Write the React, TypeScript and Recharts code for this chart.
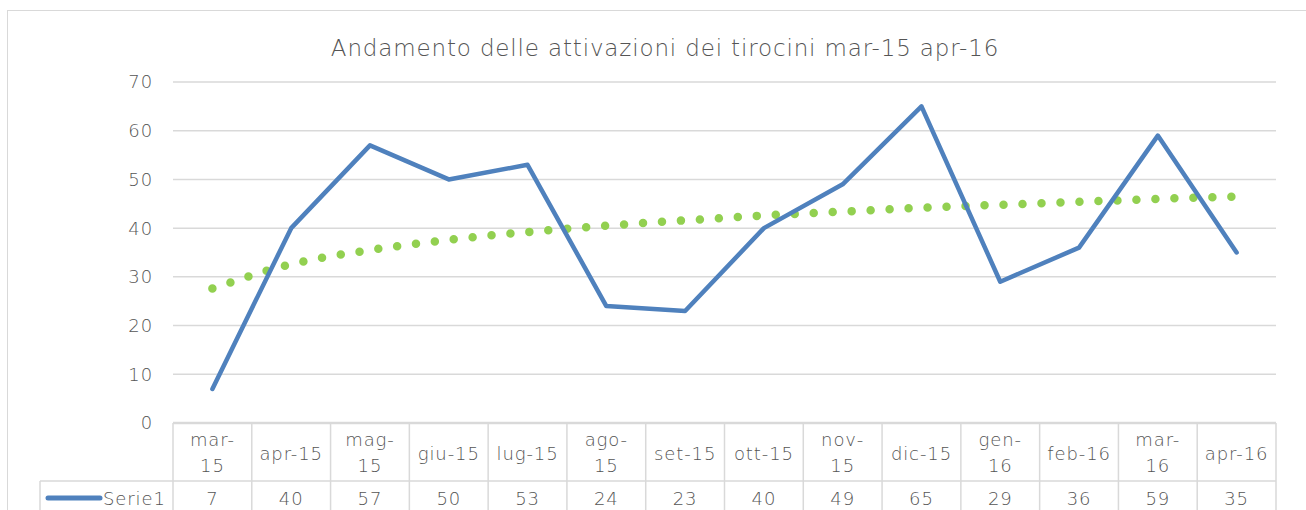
import { LineChart, Line, XAxis, YAxis, CartesianGrid } from "recharts";

const categories = [
  "mar-15", "apr-15", "mag-15", "giu-15", "lug-15", "ago-15", "set-15",
  "ott-15", "nov-15", "dic-15", "gen-16", "feb-16", "mar-16", "apr-16",
];
const serie1 = [7, 40, 57, 50, 53, 24, 23, 40, 49, 65, 29, 36, 59, 35];
// logarithmic trendline
const trend = [27.6, 32.6, 35.5, 37.6, 39.2, 40.5, 41.6, 42.6, 43.4, 44.2, 44.8, 45.4, 46.0, 46.5];
const yTicks = [0, 10, 20, 30, 40, 50, 60, 70];
// labels that Excel wrapped onto two lines
const wrapped = ["mar-15", "mag-15", "ago-15", "nov-15", "gen-16", "mar-16"];

const data = categories.map((name, i) => ({ name, serie1: serie1[i], trend: trend[i] }));

const W = 1306;
const H = 510;
const PLOT_LEFT = 173;
const PLOT_RIGHT = 1276;
const Y_AXIS_W = 60;
const BAND = (PLOT_RIGHT - PLOT_LEFT) / categories.length;
const GRID = "#d9d9d9";
const TEXT = "#555555";
const FONT = "'DejaVu Sans', sans-serif";
const WEIGHT = 200;
const SPACING = 0.9;
const BLUE = "#4f81bd";
const GREEN = "#92d050";

function TableTick(props: any) {
  const { x, y, payload, index } = props;
  const left = x - BAND / 2;
  const right = x + BAND / 2;
  const label: string = payload.value;
  const rowY = y + 58;
  const bottom = y + 100;
  const txt = {
    fill: TEXT,
    fontSize: 18,
    fontFamily: FONT,
    fontWeight: WEIGHT,
    letterSpacing: SPACING,
    textAnchor: "middle" as const,
  };
  let labelEl;
  if (wrapped.includes(label)) {
    const cut = label.indexOf("-") + 1;
    labelEl = (
      <>
        <text x={x} y={y + 16} dominantBaseline="central" {...txt}>{label.slice(0, cut)}</text>
        <text x={x} y={y + 42} dominantBaseline="central" {...txt}>{label.slice(cut)}</text>
      </>
    );
  } else {
    labelEl = <text x={x} y={y + 30} dominantBaseline="central" {...txt}>{label}</text>;
  }
  return (
    <g>
      <line x1={left} y1={y} x2={left} y2={bottom} stroke={GRID} strokeWidth={1.5} />
      {index === categories.length - 1 && (
        <line x1={right} y1={y} x2={right} y2={bottom} stroke={GRID} strokeWidth={1.5} />
      )}
      <line x1={left} y1={rowY} x2={right} y2={rowY} stroke={GRID} strokeWidth={1.5} />
      {labelEl}
      <text x={x} y={rowY + 17} dominantBaseline="central" {...txt}>{serie1[index]}</text>
      {index === 0 && (
        <g>
          <line x1={40} y1={rowY} x2={left} y2={rowY} stroke={GRID} strokeWidth={1.5} />
          <line x1={40} y1={rowY} x2={40} y2={bottom} stroke={GRID} strokeWidth={1.5} />
          <line x1={48} y1={rowY + 17} x2={100} y2={rowY + 17} stroke={BLUE} strokeWidth={5} strokeLinecap="round" />
          <text
            x={103}
            y={rowY + 17}
            dominantBaseline="central"
            fill={TEXT}
            fontSize={18}
            fontFamily={FONT}
            fontWeight={WEIGHT}
            letterSpacing={SPACING}
          >
            Serie1
          </text>
        </g>
      )}
    </g>
  );
}

export default function App() {
  return (
    <div style={{ position: "absolute", left: 0, top: 0, width: W, height: H, overflow: "hidden", background: "#fff" }}>
      <div
        style={{
          position: "absolute",
          left: 7,
          top: 10,
          width: W,
          height: H,
          border: `1.5px solid ${GRID}`,
          boxSizing: "border-box",
        }}
      />
      <div
        style={{
          position: "absolute",
          left: 0,
          width: 1330,
          top: 33,
          textAlign: "center",
          fontFamily: FONT,
          fontWeight: WEIGHT,
          fontSize: 23,
          letterSpacing: 0.85,
          color: TEXT,
          lineHeight: "30px",
        }}
      >
        Andamento delle attivazioni dei tirocini mar-15 apr-16
      </div>
      <LineChart
        width={W}
        height={H}
        data={data}
        margin={{ top: 82, right: W - PLOT_RIGHT, bottom: 0, left: PLOT_LEFT - Y_AXIS_W }}
        style={{ position: "absolute", left: 0, top: 0 }}
      >
        <CartesianGrid vertical={false} stroke={GRID} strokeWidth={1.5} />
        <XAxis
          dataKey="name"
          height={87}
          interval={0}
          tickSize={0}
          tickMargin={0}
          padding={{ left: BAND / 2, right: BAND / 2 }}
          axisLine={{ stroke: GRID, strokeWidth: 2.5 }}
          tickLine={false}
          tick={<TableTick />}
        />
        <YAxis
          width={Y_AXIS_W}
          domain={[0, 70]}
          ticks={yTicks}
          axisLine={false}
          tickLine={false}
          tickSize={0}
          tickMargin={20}
          tick={{ fill: TEXT, fontSize: 18, fontFamily: FONT, fontWeight: WEIGHT, letterSpacing: SPACING }}
        />
        <Line
          dataKey="trend"
          type="monotone"
          stroke={GREEN}
          strokeWidth={8.5}
          strokeDasharray="0 19"
          strokeLinecap="round"
          dot={false}
          activeDot={false}
          isAnimationActive={false}
        />
        <Line
          dataKey="serie1"
          type="linear"
          stroke={BLUE}
          strokeWidth={4.5}
          strokeLinejoin="round"
          strokeLinecap="round"
          dot={false}
          activeDot={false}
          isAnimationActive={false}
        />
      </LineChart>
    </div>
  );
}
